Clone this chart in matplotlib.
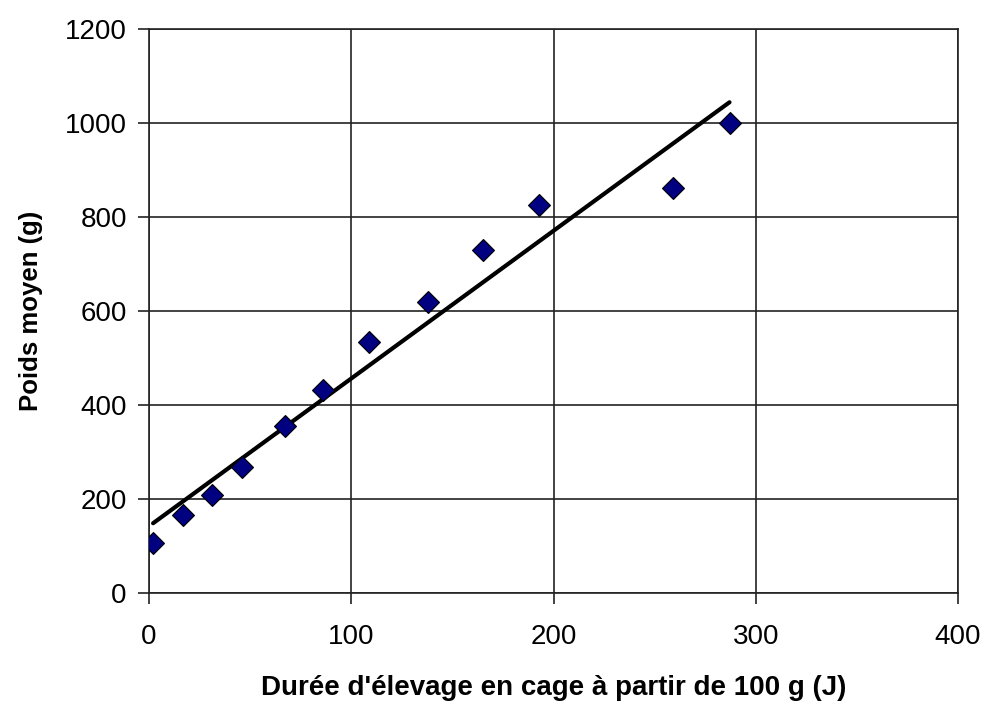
import numpy as np
import matplotlib
matplotlib.use("Agg")
import matplotlib.pyplot as plt

plt.rcParams['font.family'] = ['Liberation Sans', 'DejaVu Sans']

# durée d'élevage (jours) et poids moyen (g)
duree = [2, 17, 31, 46, 67, 86, 109, 138, 165, 193, 259, 287]
poids = [106, 166, 208, 268, 355, 432, 534, 619, 730, 826, 862, 1000]

x_ticks = [0, 100, 200, 300, 400]
y_ticks = [0, 200, 400, 600, 800, 1000, 1200]

fig = plt.figure(figsize=(9.89, 7.13), dpi=100)
ax = fig.add_axes([0.1507, 0.1683, 0.818, 0.791])

# droite de régression linéaire
a, b = np.polyfit(duree, poids, 1)
xs = np.array([min(duree), max(duree)])
ax.plot(xs, a * xs + b, color='black', lw=3, solid_capstyle='round', zorder=3)

ax.plot(duree, poids, ls='', marker='D', ms=11, mfc='#000080', mec='black',
        mew=0.8, zorder=4)

ax.set_xlim(0, 400)
ax.set_ylim(0, 1200)
ax.set_xticks(x_ticks)
ax.set_yticks(y_ticks)
ax.grid(True, color='#222222', lw=1.2)
ax.set_axisbelow(True)
for s in ax.spines.values():
    s.set_color('#222222')
    s.set_linewidth(1.2)
ax.tick_params(direction='out', length=8, width=1.2, labelsize=20,
               colors='#222222', labelcolor='black')
ax.tick_params(axis='x', pad=14)
ax.tick_params(axis='y', pad=8)

ax.set_xlabel("Durée d'élevage en cage à partir de 100 g (J)", fontsize=20,
              fontweight='bold', labelpad=18)
ax.set_ylabel("Poids moyen (g)", fontsize=18.5, fontweight='bold', labelpad=16)

fig.savefig('out.png', dpi=100)
